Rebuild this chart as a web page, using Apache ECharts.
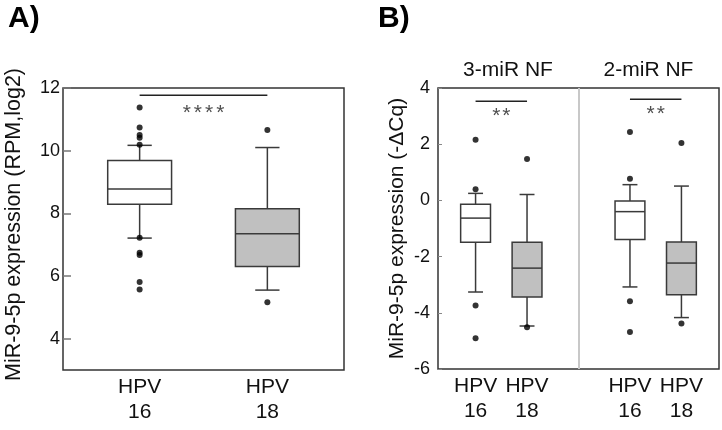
<!DOCTYPE html>
<html>
<head>
<meta charset="utf-8">
<script src="https://cdn.jsdelivr.net/npm/echarts@6/dist/echarts.min.js"></script>
<style>html,body{margin:0;padding:0;background:#fff;}#c{width:722px;height:430px;}</style>
</head>
<body>
<div id="c"></div>
<script>
// ---- data ----
const groupLabels = ['HPV\n16', 'HPV\n18'];
const ticksA = [4, 6, 8, 10, 12];
// [x, lowerWhisker, Q1, median, Q3, upperWhisker]
const boxA = [[1, 7.21, 8.29, 8.78, 9.69, 10.17], [2, 5.55, 6.30, 7.35, 8.15, 10.10]];
const outliersA = [[1, 11.38], [1, 10.74], [1, 10.50], [1, 10.41], [1, 10.19], [1, 7.22], [1, 6.74], [1, 6.67], [1, 5.81], [1, 5.57], [2, 10.66], [2, 5.16]];
const sigLineA = [[1, 11.77], [2, 11.77]];
const sigTextA = [[1.5, 11.19, 4]];   // [x, y, number of stars]

const panelBTitles = ['3-miR NF', '2-miR NF'];
const xPosB = [1, 2, 4, 5];
const boxB = [[1, -3.26, -1.49, -0.63, -0.14, 0.25], [2, -4.47, -3.44, -2.41, -1.49, 0.21],
              [4, -3.08, -1.39, -0.40, -0.02, 0.56], [5, -4.17, -3.36, -2.23, -1.48, 0.51]];
const outliersB = [[1, 2.16], [1, 0.40], [1, -3.74], [1, -4.91], [2, 1.47], [2, -4.51],
                   [4, 2.43], [4, 0.77], [4, -3.59], [4, -4.68], [5, 2.04], [5, -4.38]];
const sigLineB1 = [[1, 3.53], [2, 3.53]];
const sigLineB2 = [[4, 3.60], [5, 3.60]];
const sigTextB = [[1.5, 2.99, 2], [4.5, 3.06, 2]];

// ---- styles ----
const FONT = '"Liberation Sans", Arial, sans-serif';
const fills = ['#ffffff', '#c0c0c0'];
const STROKE = '#3a3a3a';

function boxRenderer(boxW, capW) {
  return function (params, api) {
    const x = api.value(0);
    const pLo = api.coord([x, api.value(1)]);
    const pQ1 = api.coord([x, api.value(2)]);
    const pMed = api.coord([x, api.value(3)]);
    const pQ3 = api.coord([x, api.value(4)]);
    const pHi = api.coord([x, api.value(5)]);
    const hb = api.size([boxW, 0])[0] / 2;
    const hc = api.size([capW, 0])[0] / 2;
    const cx = pMed[0];
    const ls = { stroke: STROKE, lineWidth: 1.5, fill: null };
    return {
      type: 'group',
      children: [
        { type: 'line', shape: { x1: cx, y1: pHi[1], x2: cx, y2: pQ3[1] }, style: ls },
        { type: 'line', shape: { x1: cx, y1: pQ1[1], x2: cx, y2: pLo[1] }, style: ls },
        { type: 'line', shape: { x1: cx - hc, y1: pHi[1], x2: cx + hc, y2: pHi[1] }, style: ls },
        { type: 'line', shape: { x1: cx - hc, y1: pLo[1], x2: cx + hc, y2: pLo[1] }, style: ls },
        { type: 'rect', shape: { x: cx - hb, y: pQ3[1], width: 2 * hb, height: pQ1[1] - pQ3[1] },
          style: { fill: fills[params.dataIndex % 2], stroke: STROKE, lineWidth: 1.5 } },
        { type: 'line', shape: { x1: cx - hb, y1: pMed[1], x2: cx + hb, y2: pMed[1] }, style: ls }
      ]
    };
  };
}

function starText(n) {
  const parts = [];
  for (let i = 0; i < n; i++) parts.push('{s|*}');
  return parts.join('{g|}');
}
function starLabel(gap) {
  return {
    show: true, position: 'inside', formatter: p => starText(p.data[2]),
    rich: {
      s: { fontSize: 21, color: '#222', fontFamily: FONT },
      g: { width: gap, fontSize: 21 }
    }
  };
}

const chart = echarts.init(document.getElementById('c'), null, { renderer: 'canvas' });
const sigLineStyle = { color: '#222', width: 1.5 };

chart.setOption({
  backgroundColor: '#fff',
  animation: false,
  textStyle: { fontFamily: FONT },
  graphic: [
    { type: 'text', left: 8, top: 4, style: { text: 'A)', font: 'bold 30px ' + FONT, fill: '#000' } },
    { type: 'text', left: 378, top: 4, style: { text: 'B)', font: 'bold 30px ' + FONT, fill: '#000' } },
    { type: 'text', x: 508, y: 70, style: { text: panelBTitles[0], font: '21px ' + FONT, fill: '#111', align: 'center', verticalAlign: 'middle' } },
    { type: 'text', x: 648.5, y: 70, style: { text: panelBTitles[1], font: '21px ' + FONT, fill: '#111', align: 'center', verticalAlign: 'middle' } }
  ],
  grid: [
    { left: 63, top: 88, width: 281, height: 282, show: true, borderColor: '#333', borderWidth: 1.5, backgroundColor: 'transparent' },
    { left: 438, top: 88, width: 281, height: 281, show: true, borderColor: '#333', borderWidth: 1.5, backgroundColor: 'transparent' }
  ],
  xAxis: [
    { gridIndex: 0, type: 'value', min: 0.4, max: 2.6,
      axisLine: { show: false }, axisTick: { show: false }, splitLine: { show: false },
      axisLabel: { customValues: [1, 2], formatter: v => groupLabels[Math.round(v) - 1],
        fontSize: 21, lineHeight: 25, color: '#111', margin: 5, fontFamily: FONT } },
    { gridIndex: 1, type: 'value', min: 0.27, max: 5.73,
      axisLine: { show: false }, axisTick: { show: false }, splitLine: { show: false },
      axisLabel: { customValues: xPosB, formatter: v => groupLabels[xPosB.indexOf(Math.round(v)) % 2],
        fontSize: 21, lineHeight: 25, color: '#111', margin: 5, fontFamily: FONT } }
  ],
  yAxis: [
    { gridIndex: 0, type: 'value', min: 3, max: 12,
      name: 'MiR-9-5p expression (RPM,log2)', nameLocation: 'middle', nameGap: 38,
      nameTextStyle: { fontSize: 21.5, color: '#111', fontFamily: FONT, padding: [0, 0, 0, 9] },
      axisLine: { show: false }, splitLine: { show: false },
      axisTick: { show: true, inside: true, length: 8, customValues: ticksA, lineStyle: { color: '#777', width: 1.5 } },
      axisLabel: { customValues: ticksA, fontSize: 18, color: '#111', margin: 3, fontFamily: FONT } },
    { gridIndex: 1, type: 'value', min: -6, max: 4, interval: 2,
      name: 'MiR-9-5p expression (-\u0394Cq)', nameLocation: 'middle', nameGap: 30,
      nameTextStyle: { fontSize: 21, color: '#111', fontFamily: FONT },
      axisLine: { show: false }, splitLine: { show: false },
      axisTick: { show: true, inside: true, length: 4, lineStyle: { color: '#888', width: 1 } },
      axisLabel: { fontSize: 18, color: '#111', margin: 8, fontFamily: FONT } }
  ],
  series: [
    { type: 'custom', xAxisIndex: 0, yAxisIndex: 0, renderItem: boxRenderer(0.5, 0.19),
      encode: { x: 0, y: [1, 2, 3, 4, 5] }, data: boxA, z: 2 },
    { type: 'scatter', xAxisIndex: 0, yAxisIndex: 0, data: outliersA, symbolSize: 6,
      itemStyle: { color: '#000' }, z: 3 },
    { type: 'line', xAxisIndex: 0, yAxisIndex: 0, data: sigLineA, symbol: 'none', lineStyle: sigLineStyle },
    { type: 'scatter', xAxisIndex: 0, yAxisIndex: 0, data: sigTextA, symbolSize: 0, label: starLabel(3) },

    { type: 'custom', xAxisIndex: 1, yAxisIndex: 1, renderItem: boxRenderer(0.58, 0.29),
      encode: { x: 0, y: [1, 2, 3, 4, 5] }, data: boxB, z: 2,
      markLine: { silent: true, symbol: 'none', label: { show: false },
        lineStyle: { color: '#c8c8c8', width: 2, type: 'solid' }, data: [{ xAxis: 3 }] } },
    { type: 'scatter', xAxisIndex: 1, yAxisIndex: 1, data: outliersB, symbolSize: 6,
      itemStyle: { color: '#000' }, z: 3 },
    { type: 'line', xAxisIndex: 1, yAxisIndex: 1, data: sigLineB1, symbol: 'none', lineStyle: sigLineStyle },
    { type: 'line', xAxisIndex: 1, yAxisIndex: 1, data: sigLineB2, symbol: 'none', lineStyle: sigLineStyle },
    { type: 'scatter', xAxisIndex: 1, yAxisIndex: 1, data: sigTextB, symbolSize: 0, label: starLabel(2) }
  ]
});
</script>
</body>
</html>
